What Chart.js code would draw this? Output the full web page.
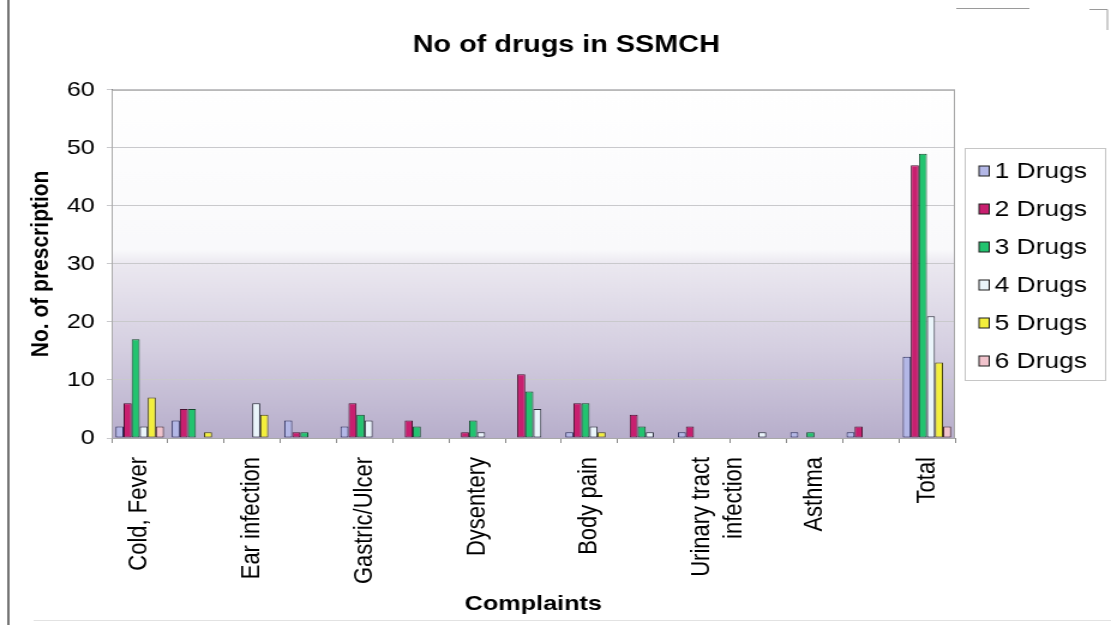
<!DOCTYPE html>
<html>
<head>
<meta charset="utf-8">
<title>No of drugs in SSMCH</title>
<script src="https://cdn.jsdelivr.net/npm/chart.js@4/dist/chart.umd.min.js"></script>
<style>
  html, body { margin: 0; padding: 0; background: #ffffff; overflow: hidden; }
  #chart { display: block; width: 1111px !important; height: 625px !important; }
</style>
</head>
<body>
<canvas id="chart" width="926" height="625"></canvas>
<script>
// Complaint groups; the unnamed groups between labels carry no tick text
const categories = [
  'Cold, Fever', '', 'Ear infection', '', 'Gastric/Ulcer', '', 'Dysentery', '',
  'Body pain', '', ['Urinary tract', 'infection'], '', 'Asthma', '', 'Total'
];

const seriesNames = ['1 Drugs', '2 Drugs', '3 Drugs', '4 Drugs', '5 Drugs', '6 Drugs'];

// Number of prescriptions by count of drugs prescribed
const oneDrug    = [2, 3, 0, 3, 2, 0, 0, 0, 1, 0, 1, 0, 1, 1, 14];
const twoDrugs   = [6, 5, 0, 1, 6, 3, 1, 11, 6, 4, 2, 0, 0, 2, 47];
const threeDrugs = [17, 5, 0, 1, 4, 2, 3, 8, 6, 2, 0, 0, 1, 0, 49];
const fourDrugs  = [2, 0, 6, 0, 3, 0, 1, 5, 2, 1, 0, 1, 0, 0, 21];
const fiveDrugs  = [7, 1, 4, 0, 0, 0, 0, 0, 1, 0, 0, 0, 0, 0, 13];
const sixDrugs   = [2, 0, 0, 0, 0, 0, 0, 0, 0, 0, 0, 0, 0, 0, 2];

const yTicks = [0, 10, 20, 30, 40, 50, 60];

const seriesValues = [oneDrug, twoDrugs, threeDrugs, fourDrugs, fiveDrugs, sixDrugs];
const seriesFill = ['#b3b7e6', '#c81f6f', '#22c36f', '#eaf5fa', '#f3ef3c', '#f1c3cc'];
const seriesEdge = ['#2a2d5c', '#4a1030', '#124a2c', '#2a2f3a', '#4a4510', '#4a2a30'];

const FONT = '"Liberation Sans", Arial, Helvetica, sans-serif';

// Lavender wash that fades in over the lower half of the plot
const plotBackground = {
  id: 'plotBackground',
  beforeDraw(chart) {
    const { ctx, chartArea: a } = chart;
    const g = ctx.createLinearGradient(0, a.top, 0, a.bottom);
    g.addColorStop(0, '#ffffff');
    g.addColorStop(0.46, '#f9f9fb');
    g.addColorStop(0.5, '#ebe8f0');
    g.addColorStop(0.75, '#d4cee0');
    g.addColorStop(1, '#b7aecb');
    ctx.save();
    ctx.fillStyle = g;
    ctx.fillRect(a.left, a.top, a.right - a.left, a.bottom - a.top);
    ctx.restore();
  }
};

// Outline of the plot area plus the outer chart edge
const frames = {
  id: 'frames',
  afterDatasetsDraw(chart) {
    const { ctx, chartArea: a } = chart;
    ctx.save();
    ctx.strokeStyle = '#a8a8a8';
    ctx.lineWidth = 1;
    ctx.strokeRect(a.left + 0.5, a.top + 0.5, a.right - a.left - 1, a.bottom - a.top);
    ctx.restore();
  },
  afterDraw(chart) {
    const { ctx } = chart;
    ctx.save();
    ctx.strokeStyle = '#3a3a3a';
    ctx.lineWidth = 1.4;
    ctx.beginPath();
    ctx.moveTo(7, 0);
    ctx.lineTo(7, 625);
    ctx.stroke();
    ctx.strokeStyle = '#e2e2e2';
    ctx.lineWidth = 1;
    ctx.beginPath();
    ctx.moveTo(28, 620.5);
    ctx.lineTo(926, 620.5);
    ctx.stroke();
    ctx.strokeStyle = '#9a9a9a';
    ctx.beginPath();
    ctx.moveTo(797, 8.5);
    ctx.lineTo(858, 8.5);
    ctx.moveTo(908, 9.5);
    ctx.lineTo(923, 9.5);
    ctx.lineTo(923, 30);
    ctx.stroke();
    ctx.restore();
  }
};

// Boxed legend on the right, one row per series
const boxedLegend = {
  id: 'boxedLegend',
  afterDraw(chart) {
    const { ctx } = chart;
    const left = 804, top = 148, width = 117, height = 232;
    ctx.save();
    ctx.strokeStyle = '#c6c6c6';
    ctx.lineWidth = 1;
    ctx.strokeRect(left + 0.5, top + 0.5, width, height);
    ctx.font = '22px ' + FONT;
    ctx.textBaseline = 'middle';
    ctx.textAlign = 'left';
    chart.data.datasets.forEach((ds, i) => {
      const cy = 171 + 38 * i;
      ctx.fillStyle = ds.backgroundColor;
      ctx.fillRect(816, cy - 5, 8.5, 10);
      ctx.strokeStyle = '#1e1e1e';
      ctx.strokeRect(816, cy - 5, 8.5, 10);
      ctx.fillStyle = '#000000';
      ctx.fillText(ds.label, 829, cy + 1);
    });
    ctx.restore();
  }
};

const datasets = seriesNames.map((name, i) => ({
  label: name,
  data: seriesValues[i],
  backgroundColor: seriesFill[i],
  borderColor: seriesEdge[i],
  borderWidth: 1,
  borderSkipped: false,
  categoryPercentage: 0.86,
  barPercentage: 1.0
}));

const canvas = document.getElementById('chart');
new Chart(canvas, {
  type: 'bar',
  data: { labels: categories, datasets },
  plugins: [plotBackground, frames, boxedLegend],
  options: {
    responsive: false,
    devicePixelRatio: 1,
    animation: false,
    layout: { padding: { left: 18, right: 0, top: 0, bottom: 8 } },
    plugins: {
      legend: { display: false },
      tooltip: { enabled: true },
      title: {
        display: true,
        text: 'No of drugs in SSMCH',
        color: '#000000',
        font: { family: FONT, size: 24, weight: 'bold' },
        padding: { top: 31, bottom: 30 }
      }
    },
    scales: {
      x: {
        offset: true,
        afterFit(scale) { scale.height = 179; },
        grid: {
          display: true,
          offset: true,
          drawOnChartArea: false,
          drawTicks: true,
          tickLength: 5,
          color: '#8a8a8a'
        },
        border: { display: true, color: '#8a8a8a' },
        ticks: {
          autoSkip: false,
          maxRotation: 90,
          minRotation: 90,
          padding: 14,
          color: '#000000',
          font: { family: FONT, size: 22 }
        },
        title: {
          display: true,
          text: 'Complaints',
          color: '#000000',
          font: { family: FONT, size: 21, weight: 'bold' },
          padding: { top: 0, bottom: 0 }
        }
      },
      y: {
        min: yTicks[0],
        max: yTicks[yTicks.length - 1],
        afterFit(scale) { scale.width = 75; },
        afterBuildTicks(scale) { scale.ticks = yTicks.map(v => ({ value: v })); },
        grid: {
          color: '#c9c9cc',
          tickLength: 4,
          drawTicks: true
        },
        border: { display: true, color: '#7a7a7a' },
        ticks: {
          padding: 10,
          color: '#000000',
          font: { family: FONT, size: 21 }
        },
        title: {
          display: true,
          text: 'No. of prescription',
          color: '#000000',
          font: { family: FONT, size: 21, weight: 'bold' },
          padding: { top: 4, bottom: 4 }
        }
      },
      // empty right-hand column that keeps room for the legend box
      legendSpace: {
        type: 'linear',
        position: 'right',
        display: true,
        afterFit(scale) { scale.width = 130; },
        grid: { display: false },
        border: { display: false },
        ticks: { display: false }
      }
    }
  }
});
canvas.style.width = '1111px';
canvas.style.height = '625px';
</script>
</body>
</html>
